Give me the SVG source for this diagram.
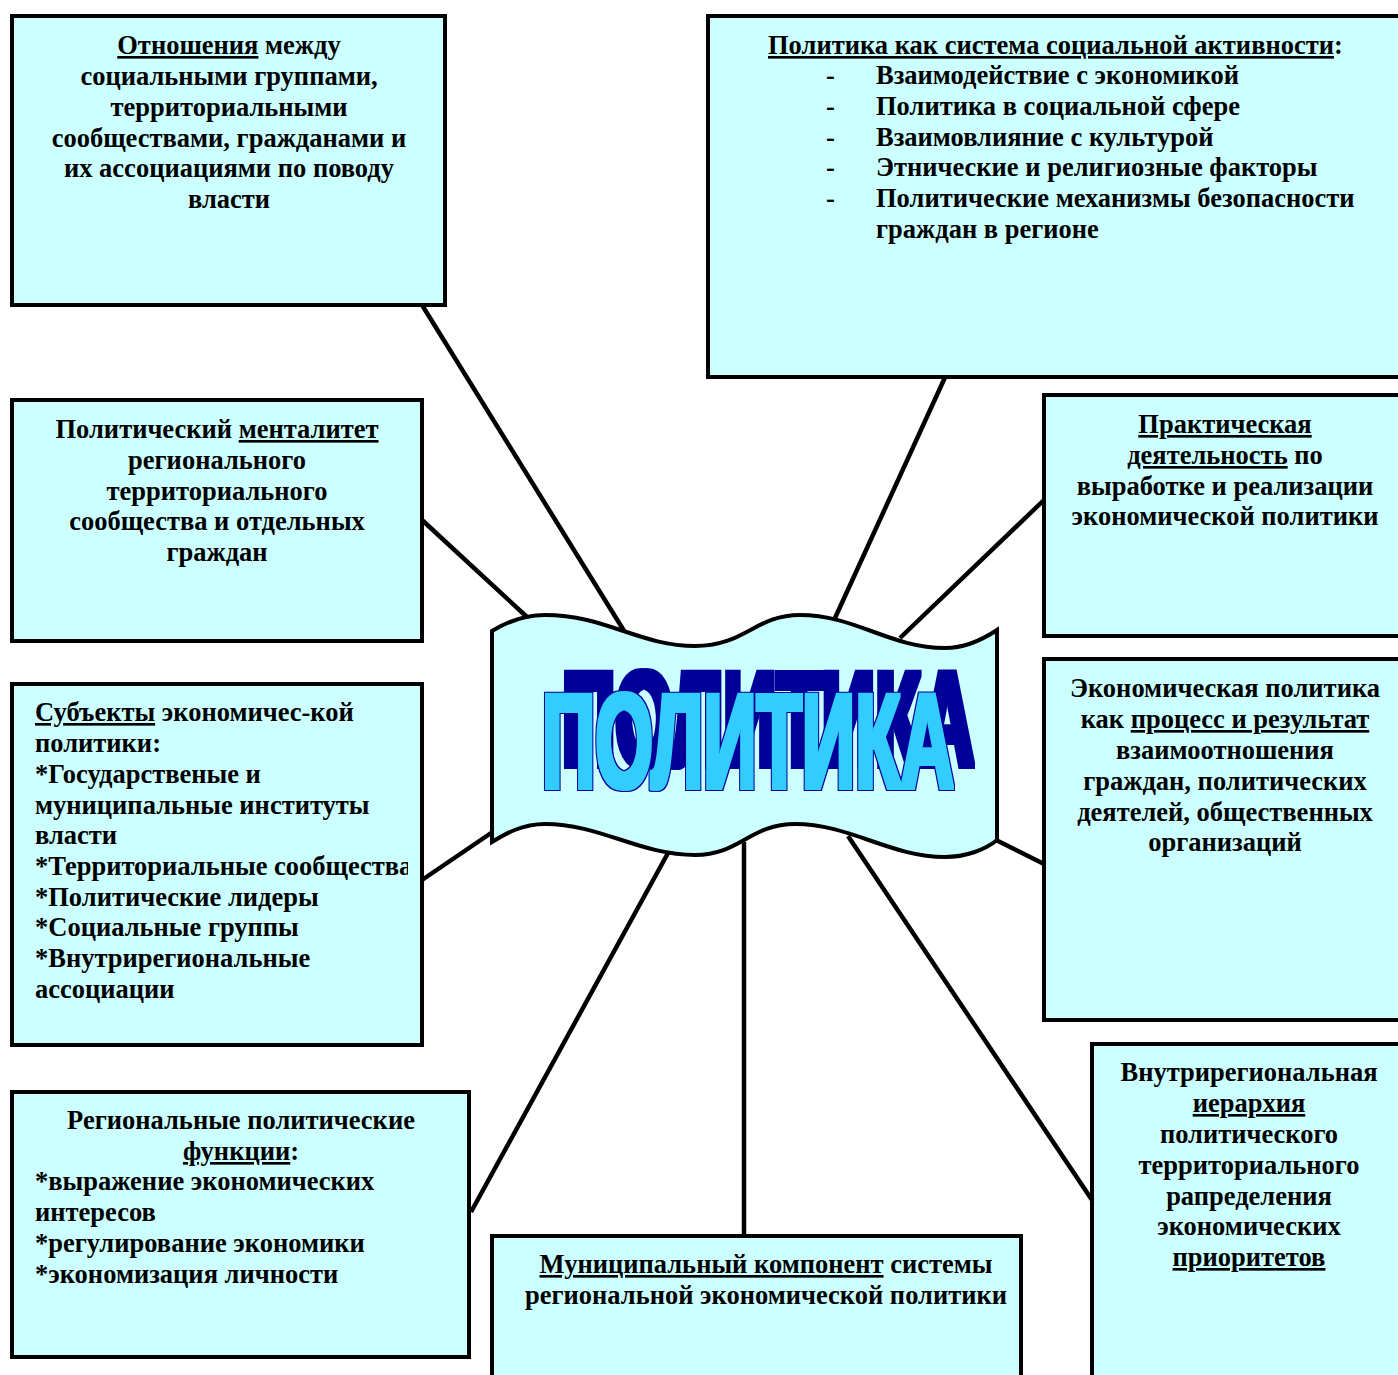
<svg xmlns="http://www.w3.org/2000/svg" width="1398" height="1375" viewBox="0 0 1398 1375">
<style>
.box{fill:#CCFFFF;stroke:#000;stroke-width:4}
.t{font-family:"Liberation Serif","Times New Roman",serif;font-weight:bold;font-size:26.5px;fill:#000}
.c{text-anchor:middle}
.u{text-decoration:underline}
.ln{stroke:#000;stroke-width:4.5;fill:none}
.wf{font-family:"Liberation Sans",Arial,sans-serif;font-weight:bold;fill:#000}
</style>
<defs>
<clipPath id="clipL"><rect x="14" y="686" width="394" height="357"/></clipPath>
<filter id="wordart" x="-10%" y="-45%" width="125%" height="190%" color-interpolation-filters="sRGB">
<feMorphology in="SourceAlpha" operator="dilate" radius="1.5" result="fat"/>
<feMorphology in="SourceAlpha" operator="dilate" radius="3" result="outer"/>
<feFlood flood-color="#000099" result="navy"/>
<feComposite in="navy" in2="outer" operator="in" result="outline"/>
<feOffset in="outline" dx="20" dy="-22" result="shadow"/>
<feFlood flood-color="#33CCFF" result="blue"/>
<feComposite in="blue" in2="fat" operator="in" result="fill"/>
<feMerge><feMergeNode in="shadow"/><feMergeNode in="outline"/><feMergeNode in="fill"/></feMerge>
</filter>
</defs>
<rect width="1398" height="1375" fill="#fff"/>
<g id="connectors">
<line class="ln" x1="422" y1="305" x2="626" y2="634"/>
<line class="ln" x1="422" y1="520" x2="527" y2="617"/>
<line class="ln" x1="422" y1="880" x2="494" y2="831"/>
<line class="ln" x1="471" y1="1212" x2="668" y2="853"/>
<line class="ln" x1="744" y1="842" x2="744" y2="1236"/>
<line class="ln" x1="848" y1="836" x2="1092" y2="1200"/>
<line class="ln" x1="996" y1="840" x2="1044" y2="864"/>
<line class="ln" x1="1044" y1="500" x2="900" y2="638"/>
<line class="ln" x1="947" y1="373" x2="835" y2="618"/>
</g>
<g id="node-otnosheniya">
<rect class="box" x="12" y="16" width="433" height="289"/>
<text class="t c" x="229" y="54"><tspan class="u">Отношения</tspan> между</text>
<text class="t c" x="229" y="85">социальными группами,</text>
<text class="t c" x="229" y="116">территориальными</text>
<text class="t c" x="229" y="147">сообществами, гражданами и</text>
<text class="t c" x="229" y="177">их ассоциациями по поводу</text>
<text class="t c" x="229" y="208">власти</text>
</g>
<g id="node-sistema">
<rect class="box" x="708" y="16" width="700" height="361"/>
<text class="t" x="768" y="54"><tspan class="u">Политика как система социальной активности</tspan>:</text>
<text class="t" x="826" y="84">-</text><text class="t" x="876" y="84">Взаимодействие с экономикой</text>
<text class="t" x="826" y="115">-</text><text class="t" x="876" y="115">Политика в социальной сфере</text>
<text class="t" x="826" y="146">-</text><text class="t" x="876" y="146">Взаимовлияние с культурой</text>
<text class="t" x="826" y="176">-</text><text class="t" x="876" y="176">Этнические и религиозные факторы</text>
<text class="t" x="826" y="207">-</text><text class="t" x="876" y="207">Политические механизмы безопасности</text>
<text class="t" x="876" y="238">граждан в регионе</text>
</g>
<g id="node-mentalitet">
<rect class="box" x="12" y="400" width="410" height="241"/>
<text class="t c" x="217" y="438">Политический <tspan class="u">менталитет</tspan></text>
<text class="t c" x="217" y="469">регионального</text>
<text class="t c" x="217" y="500">территориального</text>
<text class="t c" x="217" y="530">сообщества и отдельных</text>
<text class="t c" x="217" y="561">граждан</text>
</g>
<g id="node-praktika">
<rect class="box" x="1044" y="395" width="364" height="241"/>
<text class="t c" x="1225" y="433"><tspan class="u">Практическая</tspan></text>
<text class="t c" x="1225" y="464"><tspan class="u">деятельность</tspan> по</text>
<text class="t c" x="1225" y="495">выработке и реализации</text>
<text class="t c" x="1225" y="525">экономической политики</text>
</g>
<g id="node-subekty">
<rect class="box" x="12" y="684" width="410" height="361"/>
<g clip-path="url(#clipL)">
<text class="t" x="35" y="721"><tspan class="u">Субъекты</tspan> экономичес-кой</text>
<text class="t" x="35" y="752">политики:</text>
<text class="t" x="35" y="783">*Государственые и</text>
<text class="t" x="35" y="814">муниципальные институты</text>
<text class="t" x="35" y="844">власти</text>
<text class="t" x="35" y="875">*Территориальные сообщества</text>
<text class="t" x="35" y="906">*Политические лидеры</text>
<text class="t" x="35" y="936">*Социальные группы</text>
<text class="t" x="35" y="967">*Внутрирегиональные</text>
<text class="t" x="35" y="998">ассоциации</text>
</g>
</g>
<g id="node-process">
<rect class="box" x="1044" y="659" width="364" height="361"/>
<text class="t c" x="1225" y="697">Экономическая политика</text>
<text class="t c" x="1225" y="728">как <tspan class="u">процесс и результат</tspan></text>
<text class="t c" x="1225" y="759">взаимоотношения</text>
<text class="t c" x="1225" y="790">граждан, политических</text>
<text class="t c" x="1225" y="821">деятелей, общественных</text>
<text class="t c" x="1225" y="851">организаций</text>
</g>
<g id="node-funkcii">
<rect class="box" x="12" y="1092" width="457" height="265"/>
<text class="t c" x="241" y="1129">Региональные политические</text>
<text class="t c" x="241" y="1160"><tspan class="u">функции</tspan>:</text>
<text class="t" x="35" y="1190">*выражение экономических</text>
<text class="t" x="35" y="1221">интересов</text>
<text class="t" x="35" y="1252">*регулирование экономики</text>
<text class="t" x="35" y="1283">*экономизация личности</text>
</g>
<g id="node-ierarhiya">
<rect class="box" x="1092" y="1044" width="316" height="340"/>
<text class="t c" x="1249" y="1081">Внутрирегиональная</text>
<text class="t c" x="1249" y="1112"><tspan class="u">иерархия</tspan></text>
<text class="t c" x="1249" y="1143">политического</text>
<text class="t c" x="1249" y="1174">территориального</text>
<text class="t c" x="1249" y="1205">рапределения</text>
<text class="t c" x="1249" y="1235">экономических</text>
<text class="t c" x="1249" y="1266"><tspan class="u">приоритетов</tspan></text>
</g>
<g id="node-municipal">
<rect class="box" x="492" y="1236" width="529" height="150"/>
<text class="t c" x="766" y="1273"><tspan class="u">Муниципальный компонент</tspan> системы</text>
<text class="t c" x="766" y="1304">региональной экономической политики</text>
</g>
<g id="node-politika">
<path class="box" d="M492,631 C510,620 528,615 545,615 C605,615 640,646 695,646 C745,646 755,615 800,615 C855,615 890,648 945,648 C965,648 985,638 997,630 L997,840 C985,850 965,857 945,857 C890,857 850,824 795,824 C750,824 740,855 695,855 C640,855 600,824 545,824 C522,824 505,834 492,842 Z"/>
<g filter="url(#wordart)">
<text class="wf" transform="scale(1,1.45)" x="542" y="543.5" font-size="94" textLength="412" lengthAdjust="spacingAndGlyphs">ПОЛИТИКА</text>
</g>
</g>
</svg>
